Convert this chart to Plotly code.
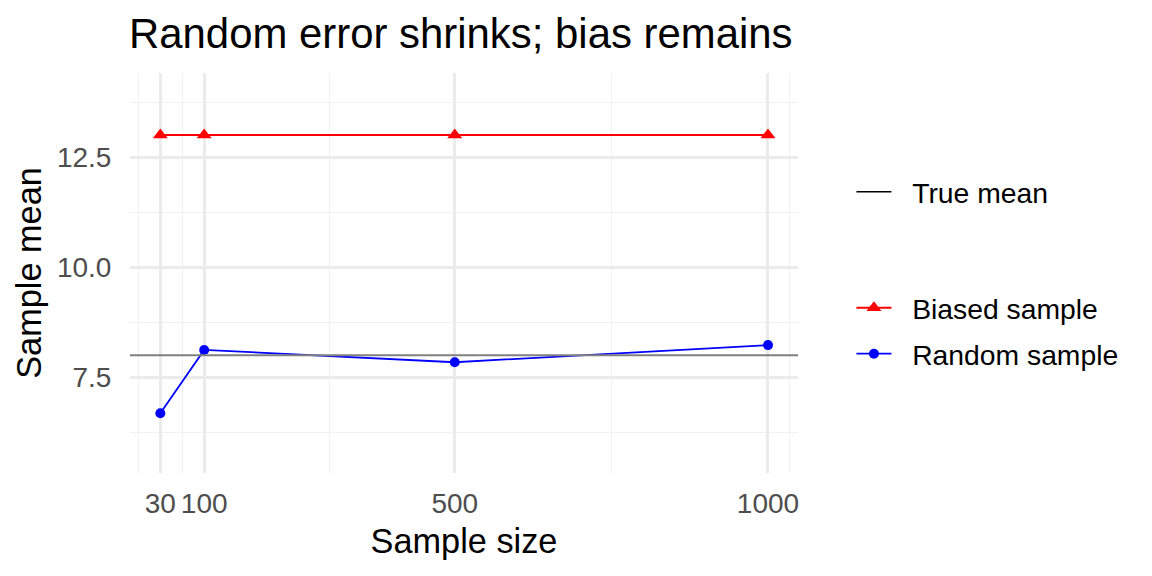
"""
Sample mean vs. sample size: random error shrinks, bias remains.
"""

import plotly.graph_objects as go

# Data
sample_sizes = [30, 100, 500, 1000]
random_means = [6.68, 8.12, 7.84, 8.23]
biased_means = [13.01, 13.01, 13.01, 13.01]
true_mean = 8.0

x_breaks = [30, 100, 500, 1000]
y_breaks = [7.5, 10.0, 12.5]

FONT = "Liberation Sans, Arial, sans-serif"
GRID_MAJOR = "#EBEBEB"
GRID_MINOR = "#F1F1F1"
TICK_GREY = "#4D4D4D"
PAD = "\u00a0\u00a0"  # gap between legend key and label


def minor_breaks(breaks):
    """ggplot-style minor breaks: midpoints, extended one step on each side."""
    step = breaks[1] - breaks[0]
    ext = [breaks[0] - step] + list(breaks) + [breaks[-1] + step]
    return [(a + b) / 2 for a, b in zip(ext[:-1], ext[1:])]


fig = go.Figure()

fig.add_trace(go.Scatter(
    x=sample_sizes, y=biased_means, name=PAD + "Biased sample", mode="lines+markers",
    line=dict(color="#FF0000", width=2),
    marker=dict(symbol="triangle-up", size=13, color="#FF0000"),
    legend="legend2", showlegend=True))

fig.add_trace(go.Scatter(
    x=sample_sizes, y=random_means, name=PAD + "Random sample", mode="lines+markers",
    line=dict(color="#0000FF", width=1.8),
    marker=dict(symbol="circle", size=10, color="#0000FF"),
    legend="legend3", showlegend=True))

# legend key for the reference line (drawn black in the legend, single point so no mark)
fig.add_trace(go.Scatter(
    x=[sample_sizes[0]], y=[true_mean], name=PAD + "True mean", mode="lines",
    line=dict(color="black", width=1.6), legend="legend", showlegend=True,
    hoverinfo="skip"))

fig.add_shape(type="line", xref="paper", yref="y", x0=0, x1=1,
              y0=true_mean, y1=true_mean, line=dict(color="#808080", width=2),
              layer="above")

legend_style = dict(font=dict(size=28.3, color="black", family=FONT),
                    bgcolor="rgba(0,0,0,0)", xanchor="left", yanchor="middle",
                    x=1.08, itemwidth=35)

fig.update_layout(
    width=1152, height=576,
    margin=dict(l=130, r=354, t=73, b=103),
    paper_bgcolor="white", plot_bgcolor="white",
    showlegend=True,
    font=dict(family=FONT, color="black"),
    title=dict(text="Random error shrinks; bias remains", x=129 / 1152, xanchor="left",
               y=1 - 33 / 576, yanchor="middle", font=dict(size=41.9, color="black")),
    legend=dict(y=0.703, **legend_style),
    legend2=dict(y=0.413, **legend_style),
    legend3=dict(y=0.298, **legend_style),
    xaxis=dict(
        range=[-18.4, 1047.9], tickvals=x_breaks, showline=False, zeroline=False,
        showgrid=True, gridcolor=GRID_MAJOR, gridwidth=2.7, automargin=False,
        ticks="outside", ticklen=5, tickcolor="rgba(0,0,0,0)",
        tickfont=dict(size=28, color=TICK_GREY),
        minor=dict(tickvals=minor_breaks(x_breaks), showgrid=True,
                   gridcolor=GRID_MINOR, gridwidth=1.3, ticks=""),
        title=dict(text="Sample size", font=dict(size=34.3, color="black"), standoff=11)),
    yaxis=dict(
        range=[5.32, 14.42], tickvals=y_breaks, tickformat=".1f", showline=False,
        zeroline=False, showgrid=True, gridcolor=GRID_MAJOR, gridwidth=2.7,
        automargin=False,
        ticks="outside", ticklen=12, tickcolor="rgba(0,0,0,0)",
        tickfont=dict(size=28, color=TICK_GREY),
        minor=dict(tickvals=minor_breaks(y_breaks), showgrid=True,
                   gridcolor=GRID_MINOR, gridwidth=1.3, ticks=""),
        title=dict(text="Sample mean", font=dict(size=34.3, color="black"), standoff=4)),
)

# drop the browser's default 8px body margin so the figure sits at the page origin
fig.write_html("out.html", config={"displayModeBar": False},
               post_script="document.body.style.margin = '0px';")
